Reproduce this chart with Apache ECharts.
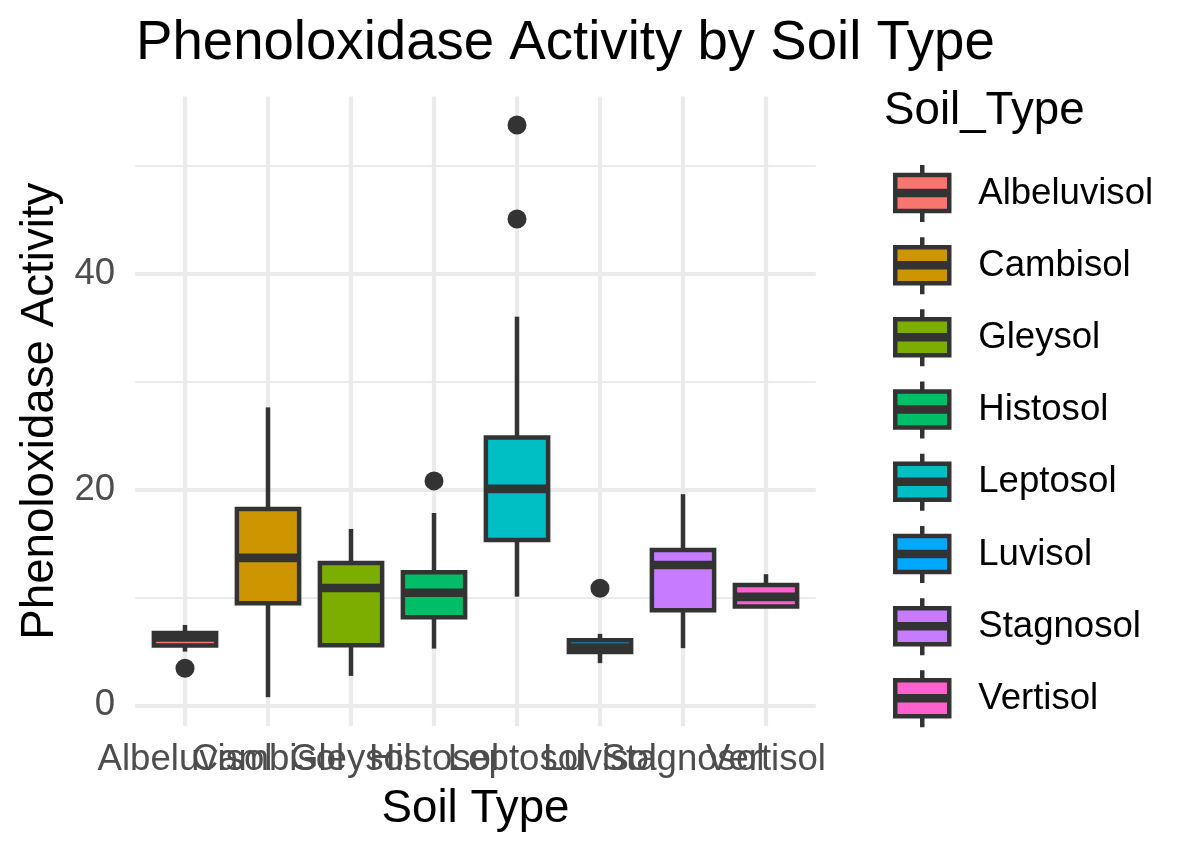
<!DOCTYPE html>
<html>
<head>
<meta charset="utf-8">
<script src="https://cdn.jsdelivr.net/npm/echarts@6/dist/echarts.min.js"></script>
<style>
html,body{margin:0;padding:0;background:#fff;}
#chart{width:1200px;height:855px;}
</style>
</head>
<body>
<div id="chart"></div>
<script>
// ---- data ----
const categories = ['Albeluvisol','Cambisol','Gleysol','Histosol','Leptosol','Luvisol','Stagnosol','Vertisol'];
const whiskerLow  = [4.98, 0.76, 2.73, 5.26, 10.07, 3.91, 5.30, 9.15];
const q1          = [5.55, 9.46, 5.57, 8.17, 15.32, 4.94, 8.81, 9.15];
const median      = [6.30, 13.66, 10.88, 10.44, 20.05, 5.37, 13.00, 10.05];
const q3          = [6.70, 18.19, 13.19, 12.33, 24.80, 6.03, 14.40, 11.16];
const whiskerHigh = [7.45, 27.60, 16.34, 17.82, 36.00, 6.62, 19.56, 12.15];
const outlierCategory = ['Albeluvisol','Histosol','Leptosol','Leptosol','Luvisol'];
const outlierValue    = [3.44, 20.79, 53.75, 45.05, 10.85];
const colors = ['#F8766D','#CD9600','#7CAE00','#00BE67','#00BFC4','#00A9FF','#C77CFF','#FF61CC'];
const xTickPositions = [1, 2, 3, 4, 5, 6, 7, 8];
const xOddTicks  = [1, 3, 5, 7];
const xEvenTicks = [2, 4, 6, 8];
const yMajorTicks = [0, 20, 40];
const yMinorTicks = [10, 30, 50];
const yMin = -1.9, yMax = 56.4;

const FONT = 'Liberation Sans';
const DARK = '#333333';
const LW = 4.5;

function renderBox(params, api) {
  const x = api.value(0);
  const pLow = api.coord([x, api.value(1)]);
  const pQ1 = api.coord([x, api.value(2)]);
  const pMed = api.coord([x, api.value(3)]);
  const pQ3 = api.coord([x, api.value(4)]);
  const pHigh = api.coord([x, api.value(5)]);
  const half = api.size([1, 0])[0] * 0.375;
  const cx = pMed[0];
  const fill = api.visual('color');
  return {
    type: 'group',
    children: [
      {type:'line', shape:{x1:cx, y1:pQ3[1], x2:cx, y2:pHigh[1]}, style:{stroke:DARK, lineWidth:LW}},
      {type:'line', shape:{x1:cx, y1:pLow[1], x2:cx, y2:pQ1[1]}, style:{stroke:DARK, lineWidth:LW}},
      {type:'rect', shape:{x:cx-half, y:pQ3[1], width:2*half, height:pQ1[1]-pQ3[1]}, style:{fill:fill, stroke:DARK, lineWidth:LW}},
      {type:'line', shape:{x1:cx-half, y1:pMed[1], x2:cx+half, y2:pMed[1]}, style:{stroke:DARK, lineWidth:LW*1.9}}
    ]
  };
}

const boxSeries = categories.map((name, i) => ({
  type: 'custom',
  name: name,
  xAxisIndex: 0,
  yAxisIndex: 0,
  itemStyle: {color: colors[i], borderColor: DARK, borderWidth: LW},
  renderItem: renderBox,
  data: [[i + 1, whiskerLow[i], q1[i], median[i], q3[i], whiskerHigh[i]]],
  silent: true
}));

const outlierSeries = {
  type: 'scatter',
  name: 'outliers',
  xAxisIndex: 0,
  yAxisIndex: 0,
  symbol: 'circle',
  symbolSize: 19,
  itemStyle: {color: DARK, opacity: 1},
  data: outlierCategory.map((c, k) => [categories.indexOf(c) + 1, outlierValue[k]]),
  silent: true,
  z: 5
};

const legendIcon = 'path://M2 10 H56 V46 H2 Z M29 0 V10 M29 46 V57 M2 26 H56 V30 H2 Z';

const xLabelStyle = {
  formatter: v => categories[Math.round(v) - 1],
  fontFamily: FONT, fontSize: 36.6, color: '#4D4D4D', lineHeight: 36.6, margin: 16,
  hideOverlap: false, showMinLabel: true, showMaxLabel: true
};

const chart = echarts.init(document.getElementById('chart'), null, {renderer: 'canvas'});
chart.setOption({
  animation: false,
  backgroundColor: '#ffffff',
  textStyle: {fontFamily: FONT},
  title: [
    {text: 'Phenoloxidase Activity by Soil Type', left: 136, top: 17, padding: 0,
     textStyle: {fontFamily: FONT, fontSize: 54.6, fontWeight: 'normal', color: '#000', lineHeight: 54.6}},
    {text: 'Soil_Type', left: 884, top: 88.6, padding: 0,
     textStyle: {fontFamily: FONT, fontSize: 45.7, fontWeight: 'normal', color: '#000', lineHeight: 45.7}}
  ],
  grid: {left: 135.2, top: 96.4, width: 680.6, height: 629.5, containLabel: false, outerBoundsMode: 'none'},
  legend: {
    data: categories,
    orient: 'vertical',
    left: 893,
    top: 162.7,
    padding: 0,
    itemWidth: 54,
    itemHeight: 57,
    itemGap: 10.7,
    icon: legendIcon,
    selectedMode: false,
    itemStyle: {borderColor: DARK, borderWidth: LW},
    textStyle: {fontFamily: FONT, fontSize: 36.6, color: '#000', padding: [0, 0, 0, 24]}
  },
  xAxis: [
    {
      type: 'value',
      min: 0.4,
      max: 8.6,
      position: 'bottom',
      name: 'Soil Type',
      nameLocation: 'middle',
      nameGap: 61,
      nameTextStyle: {fontFamily: FONT, fontSize: 45.7, color: '#000', lineHeight: 45.7},
      axisLine: {show: false},
      axisTick: {show: false, customValues: xOddTicks},
      axisLabel: Object.assign({customValues: xOddTicks}, xLabelStyle),
      splitLine: {show: false}
    },
    {
      type: 'value',
      min: 0.4,
      max: 8.6,
      position: 'bottom',
      axisLine: {show: false},
      axisTick: {show: false, customValues: xEvenTicks},
      axisLabel: Object.assign({customValues: xEvenTicks}, xLabelStyle),
      splitLine: {show: false}
    },
    {
      type: 'value',
      min: 0.4,
      max: 8.6,
      position: 'bottom',
      axisLine: {show: false},
      axisTick: {show: false, customValues: xTickPositions},
      axisLabel: {show: false, customValues: xTickPositions},
      splitLine: {show: true, lineStyle: {color: '#EBEBEB', width: 4.2}}
    }
  ],
  yAxis: [
    {
      type: 'value',
      min: yMin,
      max: yMax,
      name: 'Phenoloxidase Activity',
      nameLocation: 'middle',
      nameGap: 66,
      nameTextStyle: {fontFamily: FONT, fontSize: 45.7, color: '#000', lineHeight: 45.7},
      axisLine: {show: false},
      axisTick: {show: false, customValues: yMajorTicks},
      axisLabel: {customValues: yMajorTicks, fontFamily: FONT, fontSize: 36.6, color: '#4D4D4D', margin: 20,
                  showMinLabel: true, showMaxLabel: true},
      splitLine: {show: true, lineStyle: {color: '#EBEBEB', width: 4.2}}
    },
    {
      type: 'value',
      min: yMin,
      max: yMax,
      position: 'left',
      axisLine: {show: false},
      axisTick: {show: false, customValues: yMinorTicks},
      axisLabel: {show: false, customValues: yMinorTicks},
      splitLine: {show: true, lineStyle: {color: '#EBEBEB', width: 2.2}}
    }
  ],
  series: boxSeries.concat([outlierSeries])
});
</script>
</body>
</html>
